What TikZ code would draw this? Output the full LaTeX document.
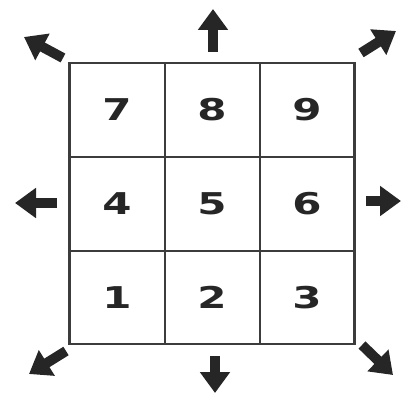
\documentclass[tikz,border=0pt]{standalone}
\usepackage{fontspec}
\setmainfont{DejaVu Sans}
\usetikzlibrary{positioning, arrows.meta}
\definecolor{keyink}{HTML}{262626}
\definecolor{gridink}{HTML}{3C3C3C}
\newcommand{\keydigit}[1]{\scalebox{1.4}[1]{#1}}

\begin{document}
\begin{tikzpicture}[x=1pt, y=-1pt,
    cell/.style={draw=gridink, line width=0.7pt, minimum width=94.3pt, minimum height=93pt,
      inner sep=0pt, text=keyink, font=\bfseries\fontsize{30}{30}\selectfont},
    dirarrow/.style={draw=keyink, line width=10pt, -{Triangle[width=29pt, length=21pt]}}]
  \useasboundingbox (0,0) rectangle (401,395);
  % keypad
  \node[cell] (c7) at (117,110) {\keydigit{7}};
  \node[cell, right=0pt of c7] (c8) {\keydigit{8}};
  \node[cell, right=0pt of c8] (c9) {\keydigit{9}};
  \node[cell, below=0pt of c7] (c4) {\keydigit{4}};
  \node[cell, right=0pt of c4] (c5) {\keydigit{5}};
  \node[cell, right=0pt of c5] (c6) {\keydigit{6}};
  \node[cell, below=0pt of c4] (c1) {\keydigit{1}};
  \node[cell, right=0pt of c1] (c2) {\keydigit{2}};
  \node[cell, right=0pt of c2] (c3) {\keydigit{3}};
  \draw[gridink, line width=2.2pt] (c7.north west) rectangle (c3.south east);
  % direction arrows
  \foreach \d/\sx/\sy/\tx/\ty in {up/213/52/213/9, dn/215/356/215/393,
                                  lf/57/203/15/203, rt/366/201/401/201,
                                  ul/63/58/24/37, ur/361/53/396/31,
                                  dl/66/351/29/374, dr/362/345/393/375} {
    \coordinate (\d-tail) at (\sx,\sy);
    \coordinate (\d-tip) at (\tx,\ty);
    \draw[dirarrow] (\d-tail) -- (\d-tip);
  }
\end{tikzpicture}
\end{document}
